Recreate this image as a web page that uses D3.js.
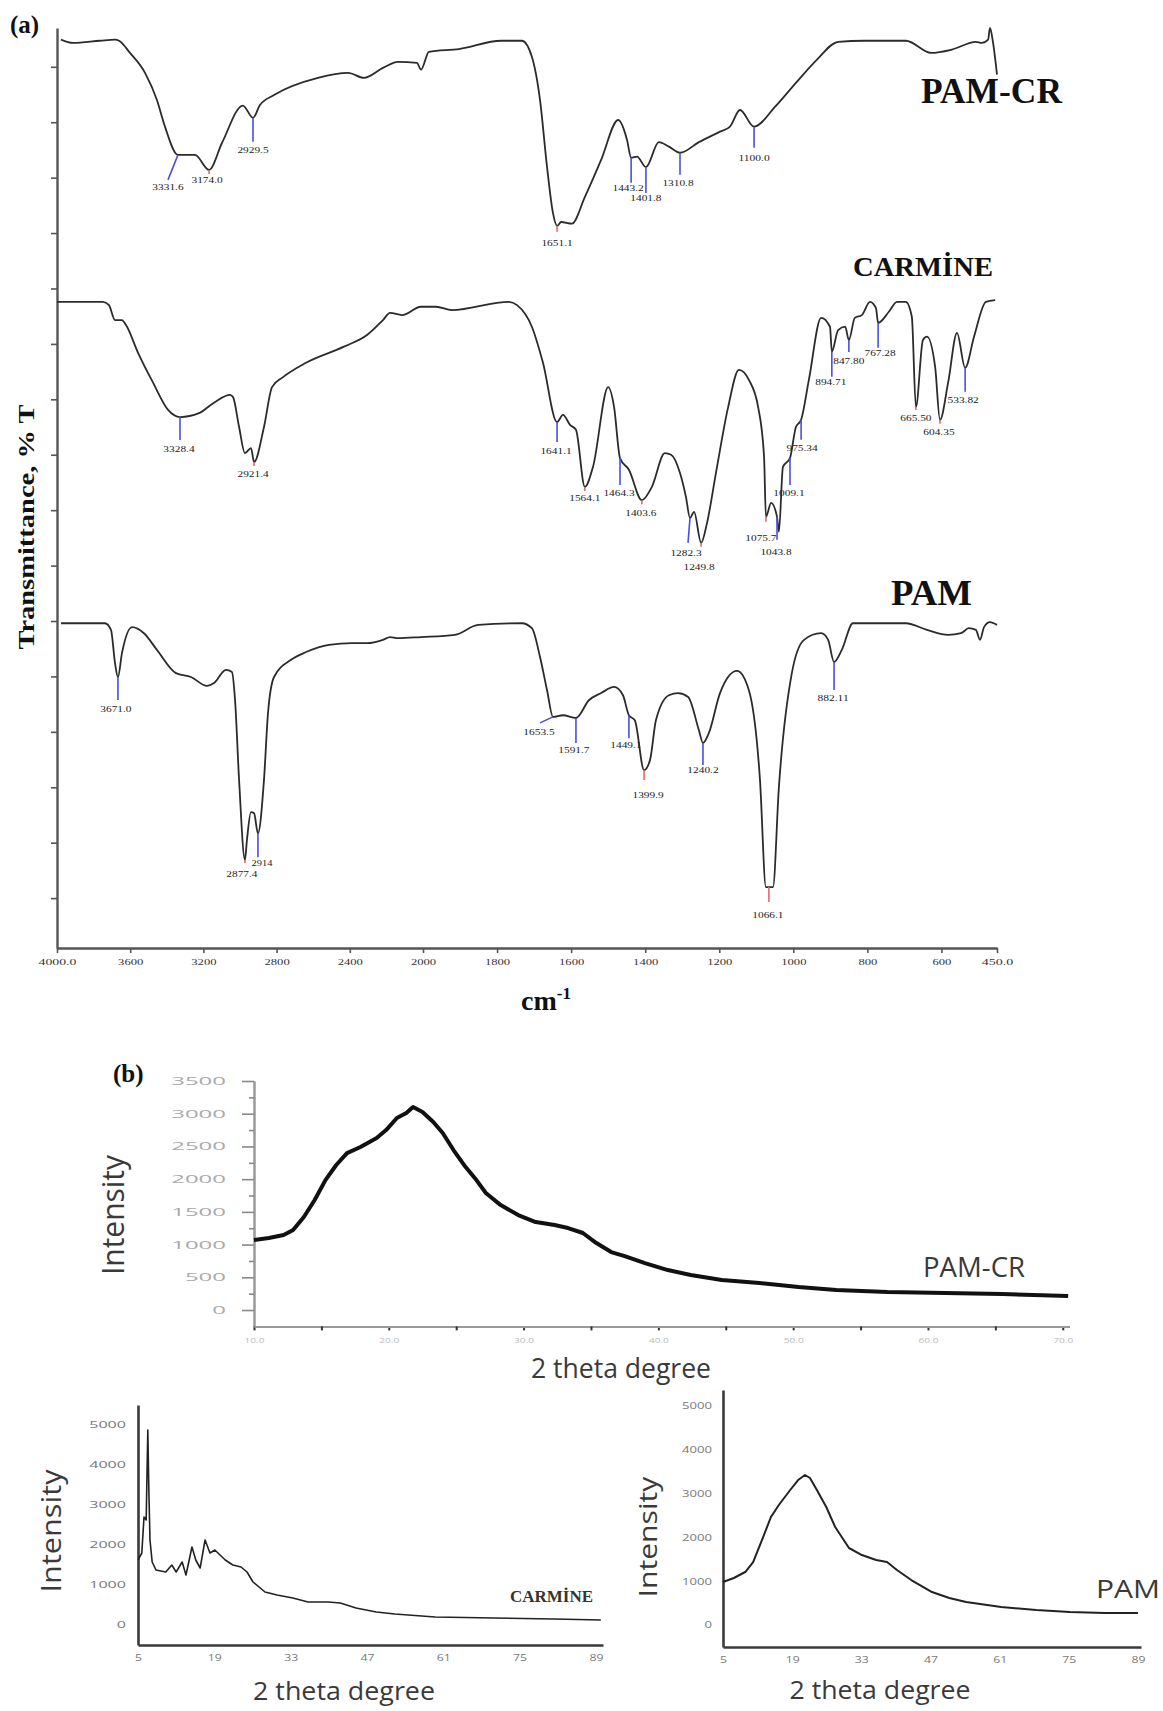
<!DOCTYPE html>
<html>
<head>
<meta charset="utf-8">
<script src="https://cdn.jsdelivr.net/npm/d3@7"></script>
<style>
  body { margin: 0; background: #fff; }
</style>
</head>
<body>
<svg id="fig" width="1163" height="1711"></svg>
<script>
// ---------- (a) FTIR: [wavenumber cm-1, transmittance in y-tick units]
const ftirPamCr = [[3978,16.49],[3913,16.43],[3765,16.47],[3683,16.49],[3661,16.47],[3601,16.25],[3519,15.89],[3454,15.40],[3410,14.92],[3339,14.41],[3246,14.41],[3169,14.14],[3098,14.63],[2984,15.30],[2929,15.08],[2891,15.31],[2814,15.49],[2574,15.80],[2410,15.89],[2322,15.80],[2219,15.98],[2137,16.09],[2033,16.07],[2011,15.95],[1984,16.27],[1903,16.32],[1789,16.47],[1733,16.47],[1706,16.18],[1684,15.40],[1665,14.19],[1649,13.36],[1638,13.13],[1627,13.20],[1598,13.17],[1563,13.65],[1519,14.32],[1473,15.04],[1449,14.68],[1438,14.36],[1422,14.38],[1398,14.19],[1363,14.64],[1336,14.56],[1306,14.45],[1255,14.64],[1198,14.83],[1171,14.92],[1144,15.22],[1106,14.92],[1049,15.28],[993,15.71],[936,16.13],[879,16.45],[809,16.47],[696,16.47],[628,16.25],[572,16.31],[507,16.45],[491,16.43],[474,16.49],[469,16.70],[461,16.45],[450,15.86]];
const ftirCarmine = [[4000,11.76],[3765,11.76],[3749,11.76],[3716,11.70],[3683,11.43],[3645,11.43],[3623,11.34],[3557,10.84],[3475,10.30],[3393,9.81],[3328,9.68],[3224,9.75],[3142,9.94],[3055,10.08],[3038,10.04],[3005,9.50],[2973,9.03],[2940,9.12],[2923,8.87],[2869,9.50],[2825,10.22],[2765,10.40],[2639,10.66],[2432,10.95],[2306,11.16],[2219,11.43],[2180,11.56],[2115,11.52],[2011,11.67],[1965,11.67],[1922,11.61],[1768,11.76],[1746,11.70],[1706,11.31],[1676,10.66],[1638,9.59],[1622,9.72],[1603,9.54],[1587,9.45],[1563,8.42],[1541,8.78],[1500,10.22],[1484,9.86],[1468,8.94],[1444,8.73],[1409,8.18],[1382,8.42],[1347,9.03],[1330,9.00],[1306,8.67],[1290,8.24],[1279,7.86],[1268,7.97],[1249,7.41],[1233,7.77],[1209,8.67],[1176,9.86],[1147,10.53],[1120,10.35],[1095,9.86],[1079,8.96],[1074,7.88],[1060,8.13],[1044,7.88],[1039,7.61],[1028,8.78],[1009,8.94],[993,9.50],[979,9.63],[958,10.35],[925,11.47],[901,11.31],[896,10.86],[879,11.25],[860,11.31],[850,11.07],[834,11.47],[815,11.52],[793,11.76],[777,11.65],[771,11.38],[742,11.58],[720,11.76],[696,11.76],[680,11.49],[669,9.86],[650,11.07],[639,11.13],[617,10.58],[604,9.63],[582,10.30],[558,11.20],[536,10.57],[512,11.13],[480,11.76],[455,11.79]];
const ftirPam = [[3978,5.96],[3738,5.96],[3705,5.84],[3683,5.24],[3667,4.99],[3645,5.42],[3590,5.89],[3525,5.78],[3454,5.48],[3350,5.06],[3268,4.99],[3180,4.83],[3142,4.88],[3077,5.12],[3044,5.08],[3027,4.57],[3005,3.13],[2973,1.69],[2962,2.05],[2940,2.55],[2923,2.53],[2902,2.17],[2869,3.13],[2847,4.34],[2814,4.99],[2721,5.30],[2639,5.44],[2514,5.57],[2388,5.60],[2306,5.60],[2219,5.66],[2180,5.71],[2137,5.69],[2011,5.71],[1914,5.75],[1851,5.93],[1733,5.96],[1706,5.87],[1684,5.35],[1665,4.75],[1649,4.27],[1622,4.30],[1587,4.25],[1552,4.57],[1519,4.70],[1484,4.81],[1460,4.66],[1444,4.30],[1428,4.21],[1403,3.31],[1387,3.49],[1371,4.21],[1336,4.66],[1311,4.70],[1284,4.63],[1255,4.03],[1244,3.80],[1228,3.98],[1198,4.70],[1152,5.10],[1120,4.75],[1090,3.13],[1074,1.20],[1055,1.20],[1039,3.00],[1004,5.06],[971,5.66],[925,5.78],[906,5.66],[890,5.26],[869,5.48],[839,5.96],[763,5.96],[696,5.96],[639,5.84],[582,5.75],[547,5.78],[526,5.87],[507,5.84],[496,5.66],[485,5.89],[469,5.98],[450,5.93]];

// peak marks: [wavenumber, printed label, colour of the marker]
const peaksPamCr = [[3339,"3331.6","b"],[3169,"3174.0","r"],[2929,"2929.5","b"],[1638,"1651.1","r"],[1438,"1443.2","b"],[1398,"1401.8","b"],[1306,"1310.8","b"],[1106,"1100.0","b"]];
const peaksCarmine = [[3328,"3328.4","b"],[2923,"2921.4","r"],[1638,"1641.1","b"],[1563,"1564.1","r"],[1468,"1464.3","b"],[1409,"1403.6","r"],[1279,"1282.3","b"],[1249,"1249.8","r"],[1074,"1075.7","r"],[1044,"1043.8","b"],[1009,"1009.1","b"],[979,"975.34","b"],[896,"894.71","b"],[850,"847.80","b"],[771,"767.28","b"],[669,"665.50","r"],[604,"604.35","r"],[536,"533.82","b"]];
const peaksPam = [[3667,"3671.0","b"],[2973,"2877.4","r"],[2902,"2914","b"],[1649,"1653.5","b"],[1587,"1591.7","b"],[1444,"1449.1","b"],[1403,"1399.9","r"],[1244,"1240.2","b"],[1066,"1066.1","r"],[890,"882.11","b"]];
// marker layout: [line length, line end dx, label dx, label dy]
const layPamCr = [[25,-10,-10,10],[4,0,-2,9],[24,0,0,11],[6,0,0,14],[25,0,-3,8],[26,0,0,8],[22,0,-2,11],[21,0,0,13]];
const layCarmine = [[23,0,-1,12],[4,0,-1,11],[20,0,-1,12],[4,0,0,10],[27,0,-1,11],[4,0,-1,12],[25,-2,-4,13],[4,0,-2,23],[5,0,-5,19],[23,0,-1,15],[27,0,-1,11],[20,0,1,11],[25,0,-1,8],[12,0,0,12],[25,0,2,8],[3,0,0,11],[4,0,-1,11],[24,0,-2,11]];
const layPam = [[23,0,-2,12],[3,0,-3,14],[24,0,4,9],[6,-13,-14,12],[25,0,-2,10],[23,0,-3,10],[10,0,4,18],[22,0,0,8],[15,0,-1,16],[28,0,-1,11]];

const ftirTicks = [4000,3600,3200,2800,2400,2000,1800,1600,1400,1200,1000,800,600,450];
const ftirTickLabels = ["4000.0","3600","3200","2800","2400","2000","1800","1600","1400","1200","1000","800","600","450.0"];

// ---------- (b) XRD: [2 theta degree, intensity]
const xrdPamCr = [[10.0,1070],[11.1,1100],[12.2,1146],[12.9,1222],[13.7,1421],[14.5,1681],[15.3,1986],[16.1,2216],[16.9,2399],[17.9,2491],[19.1,2628],[19.8,2750],[20.6,2934],[21.3,3010],[21.8,3102],[22.5,3025],[23.3,2873],[24.0,2705],[24.8,2445],[25.7,2185],[26.5,1986],[27.2,1788],[28.3,1604],[29.6,1452],[30.9,1345],[32.3,1299],[33.3,1253],[34.4,1177],[35.4,1024],[36.5,886],[37.5,825],[39.0,718],[40.7,611],[42.4,535],[44.7,458],[47.5,413],[50.4,351],[53.2,306],[57.0,275],[61.3,260],[65.5,244],[70.4,214]];
const xrdCarmine = [[5.0,1625],[5.7,1800],[6.1,2700],[6.5,2625],[6.8,4875],[7.0,3300],[7.2,2125],[7.6,1575],[8.3,1375],[10.1,1325],[11.2,1500],[12.0,1325],[13.1,1575],[13.8,1250],[14.9,1950],[15.6,1625],[16.4,1425],[17.3,2125],[18.2,1800],[19.1,1875],[21.0,1625],[22.4,1500],[23.9,1450],[25.0,1325],[26.1,1075],[28.3,825],[30.5,750],[33.4,675],[36.2,575],[39.9,575],[42.1,550],[45.0,425],[48.7,325],[52.1,275],[59.5,200],[70.3,175],[81.3,150],[89.9,125]];
const xrdPam = [[5.0,982],[7.2,1073],[9.5,1210],[11.1,1438],[12.9,1941],[14.7,2466],[16.3,2740],[18.6,3082],[20.2,3310],[21.6,3425],[22.6,3356],[24.0,3082],[25.9,2694],[27.7,2237],[30.5,1758],[33.1,1598],[36.0,1484],[38.2,1438],[40.2,1256],[43.1,1027],[47.3,753],[50.8,616],[54.2,525],[61.3,411],[68.4,342],[75.2,297],[82.3,274],[89.0,274]];

const topXTicks = [10,20,30,40,50,60,70];
const topXTickLabels = ["10.0","20.0","30.0","40.0","50.0","60.0","70.0"];
const topYTicks = [0,500,1000,1500,2000,2500,3000,3500];
const smallXTicks = [5,19,33,47,61,75,89];
const smallYTicks = [0,1000,2000,3000,4000,5000];

const SERIF = '"Liberation Serif", "DejaVu Serif", serif';
const SANS = '"Open Sans", "Noto Sans", sans-serif';
const plain = d3.format("d");
const svg = d3.select("#fig");

// squeeze / stretch tick text to the widths seen in the figure
function stretch(sel, perChar) {
  sel.each(function() {
    const t = d3.select(this), n = t.text().length;
    if (n) t.attr("textLength", n * perChar).attr("lengthAdjust", "spacingAndGlyphs");
  });
}

function label(g, txt, x, y, o) {
  const t = g.append("text").attr("x", x).attr("y", y).text(txt)
    .attr("font-family", o.family || SERIF).attr("font-size", o.size)
    .attr("font-weight", o.weight || "normal").attr("fill", o.fill || "#111")
    .attr("text-anchor", o.anchor || "start");
  if (o.len) t.attr("textLength", o.len).attr("lengthAdjust", "spacingAndGlyphs");
  if (o.rot) t.attr("transform", "rotate(-90," + x + "," + y + ")");
  return t;
}

// ================= (a) FTIR =================
const xFT = d3.scaleLinear().domain([4000, 2000, 450]).range([57, 423, 997]);
const yFT = d3.scaleLinear().domain([0.1, 16.7]).range([948, 28]);
const gA = svg.append("g");

const axB = gA.append("g").attr("transform", "translate(0,948)")
  .call(d3.axisBottom(xFT).tickValues(ftirTicks).tickFormat((d, i) => ftirTickLabels[i])
    .tickSize(5).tickSizeOuter(0).tickPadding(6));
const axL = gA.append("g").attr("transform", "translate(57,0)")
  .call(d3.axisLeft(yFT).tickValues(d3.range(1, 17)).tickFormat("").tickSize(6).tickSizeOuter(0));
[axB, axL].forEach(a => {
  a.select(".domain").attr("stroke", "#555").attr("stroke-width", 2.4);
  a.selectAll(".tick line").attr("stroke", "#555").attr("stroke-width", 1.6);
  a.selectAll("text").attr("font-family", SERIF).attr("font-size", 9).attr("fill", "#333");
});
stretch(axB.selectAll("text"), 6.3);

const lineFT = d3.line().x(d => xFT(d[0])).y(d => yFT(d[1])).curve(d3.curveMonotoneX);

function tAt(data, wn) {
  for (let i = 0; i < data.length - 1; i++) {
    const a = data[i], b = data[i + 1];
    if (wn <= a[0] && wn >= b[0]) return a[1] + (b[1] - a[1]) * (a[0] - wn) / (a[0] - b[0]);
  }
  return data[data.length - 1][1];
}

[[ftirPamCr, peaksPamCr, layPamCr], [ftirCarmine, peaksCarmine, layCarmine], [ftirPam, peaksPam, layPam]]
  .forEach(([data, peaks, lay]) => {
    gA.append("path").datum(data).attr("d", lineFT)
      .attr("fill", "none").attr("stroke", "#2b2b2b").attr("stroke-width", 1.8);
    peaks.forEach((p, i) => {
      const [len, ldx, tdx, tdy] = lay[i];
      const x = xFT(p[0]), y = yFT(tAt(data, p[0]));
      gA.append("line").attr("x1", x).attr("y1", y).attr("x2", x + ldx).attr("y2", y + len)
        .attr("stroke", p[2] === "r" ? "#e06a6a" : "#4d4de0").attr("stroke-width", 1.6);
      label(gA, p[1], x + tdx, y + len + tdy, { size: 8.5, anchor: "middle", fill: "#222", len: p[1].length * 5.2 });
    });
  });

label(gA, "PAM-CR", 921, 103, { size: 35, weight: "bold", len: 141 });
label(gA, "CARMİNE", 853, 276, { size: 28, weight: "bold", len: 140 });
label(gA, "PAM", 891, 605, { size: 35, weight: "bold", len: 81 });
label(gA, "(a)", 10, 33, { size: 25, weight: "bold" });
label(gA, "Transmittance, % T", 34, 527, { size: 24, weight: "bold", anchor: "middle", len: 245, rot: true });
const cm = label(gA, "cm", 521, 1010, { size: 28, weight: "bold" });
cm.append("tspan").attr("dy", -11).attr("font-size", 17).text("-1");

// ================= (b) XRD =================
const gB = svg.append("g");
label(gB, "(b)", 113, 1082, { size: 25, weight: "bold" });

// --- top: PAM-CR
const xTop = d3.scaleLinear().domain([10, 70.5]).range([254, 1069.5]);
const yTop = d3.scaleLinear().domain([-250, 3500]).range([1326.4, 1081]);

const tY = gB.append("g").attr("transform", "translate(254,0)")
  .call(d3.axisLeft(yTop).tickValues(topYTicks).tickFormat(plain).tickSize(12).tickSizeOuter(0).tickPadding(16));
const tYm = gB.append("g").attr("transform", "translate(254,0)")
  .call(d3.axisLeft(yTop).tickValues(d3.range(250, 3500, 500)).tickFormat("").tickSize(5).tickSizeOuter(0));
const tX = gB.append("g").attr("transform", "translate(0,1326.4)")
  .call(d3.axisBottom(xTop).tickValues(topXTicks).tickFormat((d, i) => topXTickLabels[i])
    .tickSize(4).tickSizeOuter(0).tickPadding(8));
const tXm = gB.append("g").attr("transform", "translate(0,1326.4)")
  .call(d3.axisBottom(xTop).tickValues(d3.range(15, 70, 10)).tickFormat("").tickSize(4).tickSizeOuter(0));
[tY, tYm, tX, tXm].forEach(a => {
  a.select(".domain").attr("stroke", "#999").attr("stroke-width", 2);
  a.selectAll(".tick line").attr("stroke", "#888").attr("stroke-width", 1.6);
});
tX.selectAll(".tick line").attr("stroke", "#333").attr("stroke-width", 2);
tXm.selectAll(".tick line").attr("stroke", "#333").attr("stroke-width", 2);
tY.selectAll("text").attr("font-family", SANS).attr("font-size", 11).attr("fill", "#aaa");
stretch(tY.selectAll("text"), 13.7);
tX.selectAll("text").attr("font-family", SANS).attr("font-size", 7).attr("fill", "#bbb");
stretch(tX.selectAll("text"), 5);

gB.append("path").datum(xrdPamCr)
  .attr("d", d3.line().x(d => xTop(d[0])).y(d => yTop(d[1])))
  .attr("fill", "none").attr("stroke", "#111").attr("stroke-width", 4).attr("stroke-linejoin", "round");

label(gB, "Intensity", 124, 1215, { family: SANS, size: 31, anchor: "middle", fill: "#3a3a3a", len: 120, rot: true });
label(gB, "2 theta degree", 621, 1378, { family: SANS, size: 28, anchor: "middle", fill: "#3a3a3a", len: 180 });
label(gB, "PAM-CR", 923, 1277, { family: SANS, size: 28, fill: "#3a3a3a", len: 102 });

// --- bottom panels: CARMINE and PAM
function smallPanel(data, xs, ys, o) {
  const ax = gB.append("g").attr("transform", "translate(0," + ys.range()[0] + ")")
    .call(d3.axisBottom(xs).tickValues(smallXTicks).tickFormat(plain).tickSize(0).tickSizeOuter(0).tickPadding(10));
  const ay = gB.append("g").attr("transform", "translate(" + xs.range()[0] + ",0)")
    .call(d3.axisLeft(ys).tickValues(smallYTicks).tickFormat(plain).tickSize(0).tickSizeOuter(0).tickPadding(o.pad));
  [ax, ay].forEach(a => {
    a.select(".domain").attr("stroke", "#3a3a3a").attr("stroke-width", 2.6);
    a.selectAll("text").attr("font-family", SANS).attr("font-size", 9).attr("fill", "#777");
  });
  stretch(ax.selectAll("text"), 7);
  stretch(ay.selectAll("text"), o.yChar);
  gB.append("path").datum(data)
    .attr("d", d3.line().x(d => xs(d[0])).y(d => ys(d[1])))
    .attr("fill", "none").attr("stroke", "#222").attr("stroke-width", o.lw).attr("stroke-linejoin", "round");
}

const xCar = d3.scaleLinear().domain([5, 90.3]).range([138, 603]);
const yCar = d3.scaleLinear().domain([-500, 5500]).range([1645, 1405]);
smallPanel(xrdCarmine, xCar, yCar, { pad: 12, yChar: 9.2, lw: 1.6 });
label(gB, "Intensity", 61, 1531, { family: SANS, size: 27, anchor: "middle", fill: "#3a3a3a", len: 123, rot: true });
label(gB, "2 theta degree", 344, 1700, { family: SANS, size: 26, anchor: "middle", fill: "#3a3a3a", len: 182 });
label(gB, "CARMİNE", 510, 1602, { size: 16, weight: "bold", fill: "#333", len: 83 });

const xPam = d3.scaleLinear().domain([5, 89.6]).range([723, 1141]);
const yPam = d3.scaleLinear().domain([-502, 5365]).range([1647, 1390]);
smallPanel(xrdPam, xPam, yPam, { pad: 11, yChar: 7.5, lw: 2 });
label(gB, "Intensity", 657, 1537, { family: SANS, size: 26, anchor: "middle", fill: "#3a3a3a", len: 121, rot: true });
label(gB, "2 theta degree", 880, 1699, { family: SANS, size: 26, anchor: "middle", fill: "#3a3a3a", len: 181 });
label(gB, "PAM", 1096, 1598, { family: SANS, size: 26, fill: "#3a3a3a", len: 64 });
</script>
</body>
</html>
